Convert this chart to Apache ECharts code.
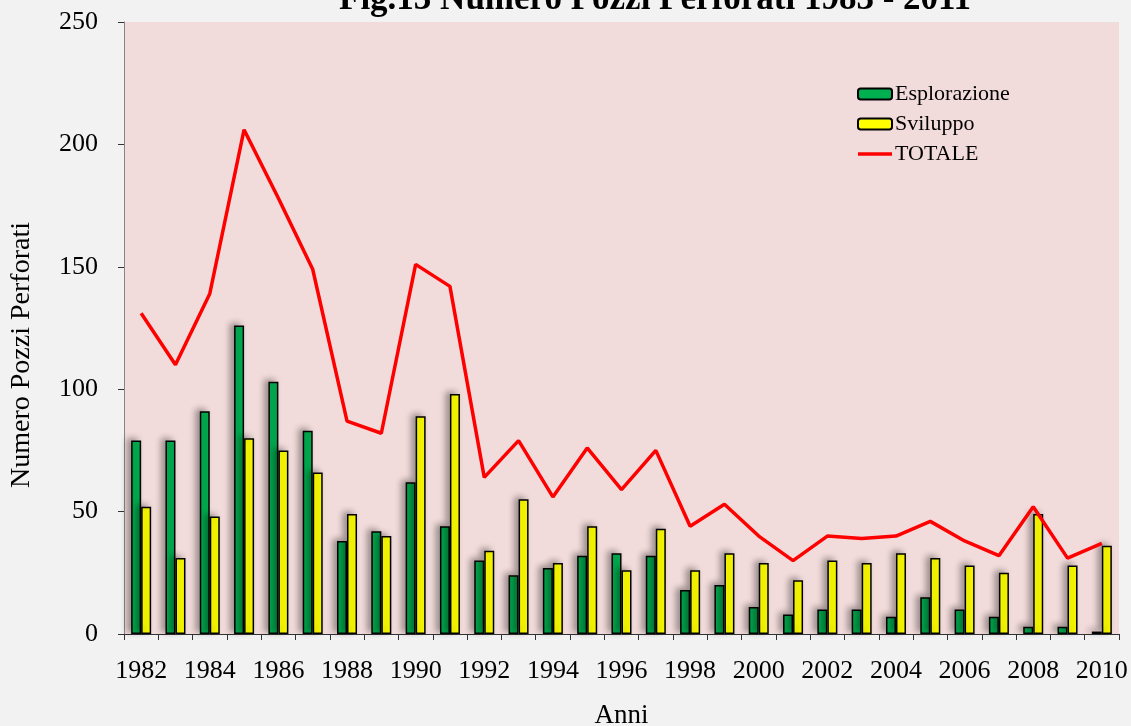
<!DOCTYPE html>
<html>
<head>
<meta charset="utf-8">
<script src="https://cdn.jsdelivr.net/npm/echarts@6/dist/echarts.min.js"></script>
<style>
	html, body { margin: 0; padding: 0; background: #f2f2f2; overflow: hidden; }
	#chart { width: 1131px; height: 726px; }
</style>
</head>
<body>
<div id="chart"></div>
<script>
// anni 1982 - 2010
var years = ["1982", "1983", "1984", "1985", "1986", "1987", "1988", "1989", "1990", "1991",
	"1992", "1993", "1994", "1995", "1996", "1997", "1998", "1999", "2000", "2001",
	"2002", "2003", "2004", "2005", "2006", "2007", "2008", "2009", "2010"];
var esplorazione = [79, 79, 91, 126, 103, 83, 38, 42, 62, 44,
	30, 24, 27, 32, 33, 32, 18, 20, 11, 8,
	10, 10, 7, 15, 10, 7, 3, 3, 1];
var sviluppo = [52, 31, 48, 80, 75, 66, 49, 40, 89, 98,
	34, 55, 29, 44, 26, 43, 26, 33, 29, 22,
	30, 29, 33, 31, 28, 25, 49, 28, 36];
var totale = [131, 110, 139, 206, 178, 149, 87, 82, 151, 142,
	64, 79, 56, 76, 59, 75, 44, 53, 40, 30,
	40, 39, 40, 46, 38, 32, 52, 31, 37];
var yTicks = [0, 50, 100, 150, 200, 250];

var font = "'Liberation Serif','DejaVu Serif',serif";
var chart = echarts.init(document.getElementById("chart"), null, { width: 1131, height: 726 });

var barShadow = {
	shadowColor: "rgba(0,0,0,0.35)",
	shadowBlur: 6,
	shadowOffsetX: -4,
	shadowOffsetY: -2
};

var option = {
	backgroundColor: "#f2f2f2",
	animation: false,
	textStyle: {
		fontFamily: font,
		color: "#000"
	},
	title: {
		text: "Fig.13 Numero Pozzi Perforati 1983 - 2011",
		left: 339,
		top: -18,
		padding: 0,
		textStyle: {
			fontFamily: font,
			fontSize: 35,
			fontWeight: "bold",
			color: "#000"
		}
	},
	legend: {
		orient: "vertical",
		left: 857,
		top: 83,
		itemWidth: 34,
		itemHeight: 11,
		itemGap: 8,
		padding: 0,
		textStyle: {
			fontFamily: font,
			fontSize: 22,
			color: "#000",
			padding: [0, 0, 0, -2]
		},
		data: [
			"Esplorazione",
			"Sviluppo",
			{
				name: "TOTALE",
				icon: "path://M0,0H34V3.5H0Z",
				itemStyle: { color: "#ff0000", borderWidth: 0 }
			}
		]
	},
	grid: {
		left: 124,
		top: 22,
		width: 995,
		height: 612,
		outerBoundsMode: "none",
		containLabel: false,
		show: true,
		backgroundColor: "#f2dcdb",
		borderWidth: 0
	},
	xAxis: {
		type: "category",
		data: years,
		name: "Anni",
		nameLocation: "middle",
		nameGap: 68,
		nameTextStyle: {
			fontFamily: font,
			fontSize: 27,
			color: "#000"
		},
		axisLine: {
			lineStyle: { color: "#333", width: 1 }
		},
		axisTick: {
			show: true,
			interval: 0,
			length: 6,
			lineStyle: { color: "#333" }
		},
		axisLabel: {
			interval: 1,
			margin: 24,
			fontFamily: font,
			fontSize: 26,
			color: "#000"
		}
	},
	yAxis: {
		type: "value",
		min: yTicks[0],
		max: yTicks[yTicks.length - 1],
		interval: 50,
		name: "Numero Pozzi Perforati",
		nameLocation: "middle",
		nameGap: 88,
		nameTextStyle: {
			fontFamily: font,
			fontSize: 28,
			color: "#000",
			padding: [0, 54, 0, 0]
		},
		axisLine: {
			show: true,
			lineStyle: { color: "#868686", width: 1 }
		},
		axisTick: {
			show: true,
			length: 6,
			lineStyle: { color: "#333" }
		},
		splitLine: { show: false },
		axisLabel: {
			margin: 26,
			fontFamily: font,
			fontSize: 26,
			color: "#000"
		}
	},
	series: [
		{
			name: "Esplorazione",
			type: "bar",
			data: esplorazione,
			barWidth: 10,
			barGap: "0%",
			itemStyle: Object.assign({
				color: "#00b050",
				borderColor: "#000",
				borderWidth: 1.5
			}, barShadow)
		},
		{
			name: "Sviluppo",
			type: "bar",
			data: sviluppo,
			barWidth: 10,
			barGap: "0%",
			itemStyle: Object.assign({
				color: "#ffff00",
				borderColor: "#000",
				borderWidth: 1.5
			}, barShadow)
		},
		{
			name: "TOTALE",
			type: "line",
			data: totale,
			symbol: "none",
			z: 5,
			lineStyle: {
				color: "#ff0000",
				width: 3.5
			},
			itemStyle: {
				color: "#ff0000"
			}
		}
	]
};

chart.setOption(option);
</script>
</body>
</html>
